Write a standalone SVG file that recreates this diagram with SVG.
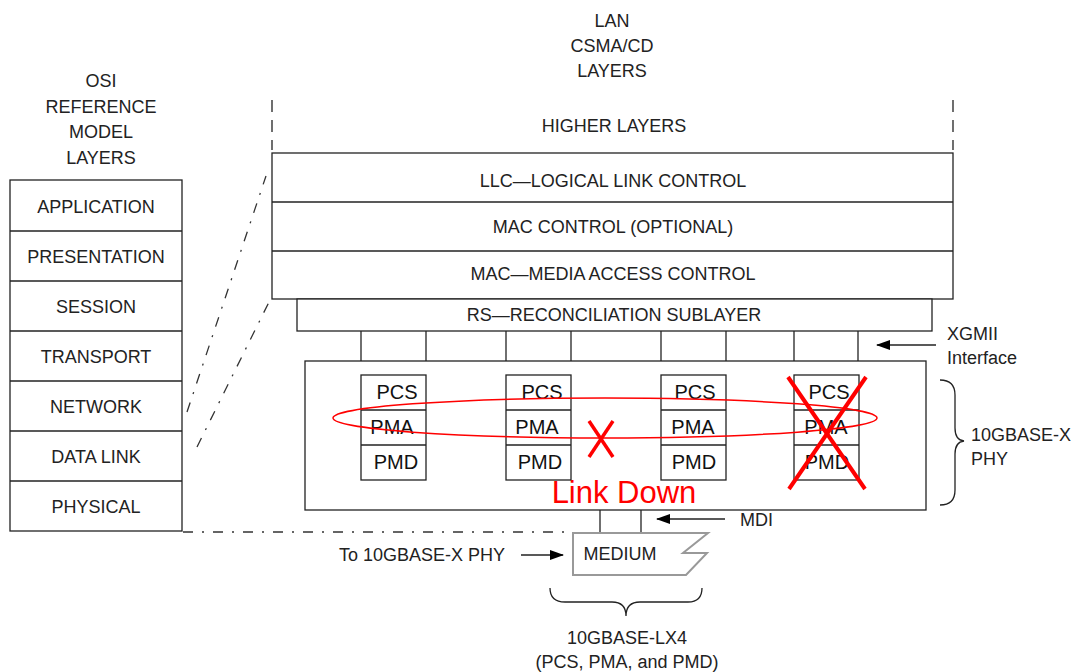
<svg xmlns="http://www.w3.org/2000/svg" width="1079" height="672" viewBox="0 0 1079 672">
<defs>
<style>
.t{font-family:"Liberation Sans",Arial,sans-serif;font-size:18px;fill:#222;text-anchor:middle}
.s{font-family:"Liberation Sans",Arial,sans-serif;font-size:20px;fill:#111;text-anchor:middle}
.ln{stroke:#222;stroke-width:1.3;fill:none}
.box{stroke:#222;stroke-width:1.3;fill:#fff}
.dash{stroke:#333;stroke-width:1.3;fill:none;stroke-dasharray:10 9 2 9}
.red{stroke:#ff0000;fill:none}
</style>
<marker id="ah" markerWidth="14" markerHeight="10" refX="13" refY="5" orient="auto" markerUnits="userSpaceOnUse">
<path d="M0,0 L14,5 L0,10 Z" fill="#000"/>
</marker>
</defs>
<rect width="1079" height="672" fill="#fff"/>

<g id="titles">
<text class="t" x="612" y="27">LAN</text>
<text class="t" x="612" y="52">CSMA/CD</text>
<text class="t" x="612" y="77">LAYERS</text>
<text class="t" x="101" y="87">OSI</text>
<text class="t" x="101" y="113">REFERENCE</text>
<text class="t" x="101" y="138">MODEL</text>
<text class="t" x="101" y="164">LAYERS</text>
</g>

<g id="osi-stack">
<rect class="box" x="10" y="180" width="172" height="351"/>
<line class="ln" x1="10" y1="231" x2="182" y2="231"/>
<line class="ln" x1="10" y1="281" x2="182" y2="281"/>
<line class="ln" x1="10" y1="331" x2="182" y2="331"/>
<line class="ln" x1="10" y1="381" x2="182" y2="381"/>
<line class="ln" x1="10" y1="431" x2="182" y2="431"/>
<line class="ln" x1="10" y1="481" x2="182" y2="481"/>
<text class="t" x="96" y="213">APPLICATION</text>
<text class="t" x="96" y="263">PRESENTATION</text>
<text class="t" x="96" y="313">SESSION</text>
<text class="t" x="96" y="363">TRANSPORT</text>
<text class="t" x="96" y="413">NETWORK</text>
<text class="t" x="96" y="463">DATA LINK</text>
<text class="t" x="96" y="513">PHYSICAL</text>
</g>

<g id="higher-layers">
<line class="ln" x1="272" y1="100" x2="272" y2="150" stroke-dasharray="12 8"/>
<line class="ln" x1="953" y1="100" x2="953" y2="150" stroke-dasharray="12 8"/>
<text class="t" x="614" y="132">HIGHER LAYERS</text>
</g>

<g id="lan-stack">
<rect class="box" x="272" y="153" width="681" height="146"/>
<line class="ln" x1="272" y1="202" x2="953" y2="202"/>
<line class="ln" x1="272" y1="251" x2="953" y2="251"/>
<text class="t" x="613" y="187">LLC—LOGICAL LINK CONTROL</text>
<text class="t" x="613" y="233">MAC CONTROL (OPTIONAL)</text>
<text class="t" x="613" y="280">MAC—MEDIA ACCESS CONTROL</text>
</g>

<g id="rs">
<rect class="box" x="297" y="299" width="635" height="32"/>
<text class="t" x="614" y="321">RS—RECONCILIATION SUBLAYER</text>
</g>

<g id="connectors">
<line class="dash" x1="187" y1="412" x2="266" y2="176"/>
<line class="dash" x1="197" y1="447" x2="270" y2="300"/>
<line class="dash" x1="183" y1="532" x2="572" y2="532"/>
<line class="ln" x1="361" y1="331" x2="361" y2="361"/>
<line class="ln" x1="426" y1="331" x2="426" y2="361"/>
<line class="ln" x1="506" y1="331" x2="506" y2="361"/>
<line class="ln" x1="571" y1="331" x2="571" y2="361"/>
<line class="ln" x1="661" y1="331" x2="661" y2="361"/>
<line class="ln" x1="726" y1="331" x2="726" y2="361"/>
<line class="ln" x1="794" y1="331" x2="794" y2="361"/>
<line class="ln" x1="858" y1="331" x2="858" y2="361"/>
<line class="ln" x1="600" y1="510" x2="600" y2="533"/>
<line class="ln" x1="641" y1="510" x2="641" y2="533"/>
<line class="ln" x1="936" y1="345" x2="877" y2="345" marker-end="url(#ah)"/>
<line class="ln" x1="725" y1="519" x2="657" y2="519" marker-end="url(#ah)"/>
<line class="ln" x1="521" y1="555" x2="563" y2="555" marker-end="url(#ah)"/>
</g>

<g id="phy">
<rect class="box" x="305" y="361" width="621" height="149"/>
</g>

<g id="stack1">
<rect class="box" x="361" y="375" width="65" height="105"/>
<line class="ln" x1="361" y1="410" x2="426" y2="410"/>
<line class="ln" x1="361" y1="445" x2="426" y2="445"/>
<text class="s" x="397" y="399">PCS</text>
<text class="s" x="392" y="434">PMA</text>
<text class="s" x="396" y="469">PMD</text>
</g>
<g id="stack2">
<rect class="box" x="506" y="375" width="65" height="105"/>
<line class="ln" x1="506" y1="410" x2="571" y2="410"/>
<line class="ln" x1="506" y1="445" x2="571" y2="445"/>
<text class="s" x="542" y="399">PCS</text>
<text class="s" x="537" y="434">PMA</text>
<text class="s" x="540" y="469">PMD</text>
</g>
<g id="stack3">
<rect class="box" x="661" y="375" width="65" height="105"/>
<line class="ln" x1="661" y1="410" x2="726" y2="410"/>
<line class="ln" x1="661" y1="445" x2="726" y2="445"/>
<text class="s" x="695" y="399">PCS</text>
<text class="s" x="693" y="434">PMA</text>
<text class="s" x="694" y="469">PMD</text>
</g>
<g id="stack4">
<rect class="box" x="794" y="375" width="65" height="105"/>
<line class="ln" x1="794" y1="410" x2="859" y2="410"/>
<line class="ln" x1="794" y1="445" x2="859" y2="445"/>
<text class="s" x="829" y="399">PCS</text>
<text class="s" x="826" y="434">PMA</text>
<text class="s" x="827" y="469">PMD</text>
</g>

<g id="annotations">
<ellipse class="red" cx="605" cy="418" rx="272" ry="20" stroke-width="1.5"/>
<line class="red" x1="589" y1="421" x2="613" y2="457" stroke-width="3.5"/>
<line class="red" x1="613" y1="421" x2="589" y2="457" stroke-width="3.5"/>
<line class="red" x1="788" y1="377" x2="865" y2="489" stroke-width="4"/>
<line class="red" x1="866" y1="377" x2="789" y2="489" stroke-width="4"/>
<text x="624" y="503" font-family="Liberation Sans, Arial, sans-serif" font-size="31" fill="#ff0000" text-anchor="middle">Link Down</text>
</g>

<g id="labels-right">
<text class="t" x="947" y="340" style="text-anchor:start">XGMII</text>
<text class="t" x="947" y="364" style="text-anchor:start">Interface</text>
<path class="ln" d="M940,380 Q955,380 955,395 L955,428 Q955,440 964,441 Q955,442 955,454 L955,490 Q955,505 940,505" stroke="#444"/>
<text class="t" x="971" y="441" style="text-anchor:start">10GBASE-X</text>
<text class="t" x="971" y="465" style="text-anchor:start">PHY</text>
<text class="t" x="740" y="526" style="text-anchor:start">MDI</text>
</g>

<g id="medium">
<path d="M573,533 L708,533 L683,553 L707,553 L686,575 L573,575 Z" fill="#fff" stroke="#999" stroke-width="2"/>
<text class="t" x="620" y="560">MEDIUM</text>
<text class="t" x="422" y="561">To 10GBASE-X PHY</text>
</g>

<g id="lx4">
<path class="ln" d="M550,588 Q550,602 565,602 L612,602 Q626,602 626,616 Q626,602 640,602 L688,602 Q702,602 702,588" stroke="#444"/>
<text class="t" x="627" y="644">10GBASE-LX4</text>
<text class="t" x="627" y="668">(PCS, PMA, and PMD)</text>
</g>
</svg>
